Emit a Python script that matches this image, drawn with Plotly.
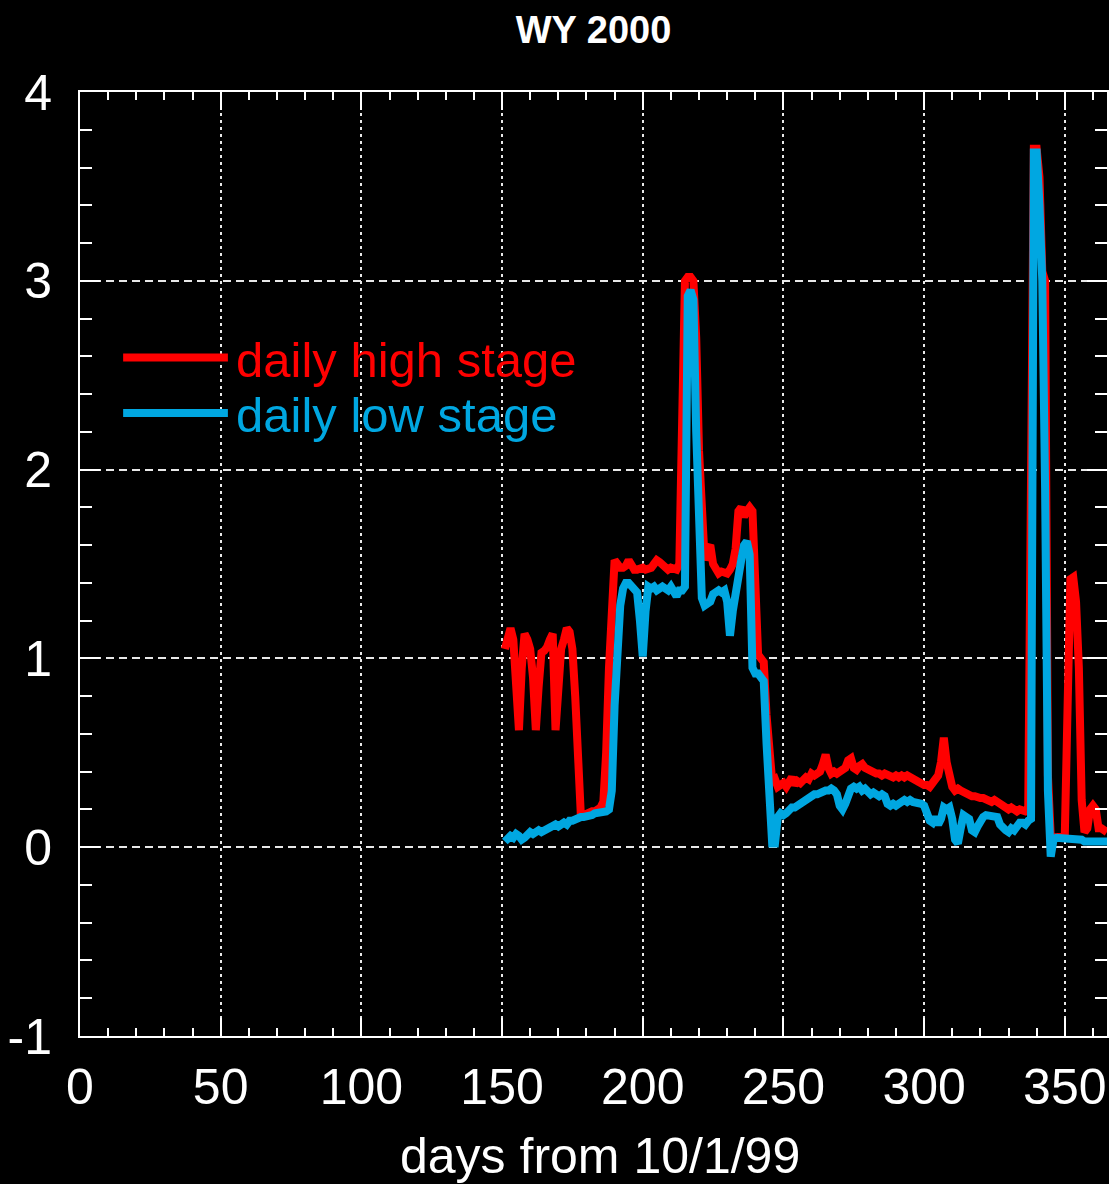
import plotly.graph_objects as go

# ---- data ----
first_day = 151
high_stage = [
    1.05, 1.12, 1.16, 1.10, 0.85, 0.62, 0.95, 1.13, 1.10, 1.05,   # 151-160
    0.90, 0.62, 0.85, 1.03, 1.04, 1.06, 1.10, 1.13, 0.62, 0.90,   # 161-170
    1.05, 1.10, 1.16, 1.14, 1.05, 0.80, 0.40, 0.17, 0.17, 0.18,   # 171-180
    0.18, 0.19, 0.19, 0.20, 0.21, 0.24, 0.50, 0.95, 1.30, 1.52,   # 181-190
    1.50, 1.48, 1.48, 1.49, 1.52, 1.50, 1.47, 1.47, 1.48, 1.48,   # 191-200
    1.47, 1.47, 1.48, 1.50, 1.52, 1.51, 1.50, 1.48, 1.47, 1.48,   # 201-210
    1.48, 1.47, 1.50, 2.25, 3.00, 3.02, 3.02, 3.00, 2.70, 2.10,   # 211-220
    1.70, 1.52, 1.58, 1.60, 1.50, 1.46, 1.45, 1.46, 1.46, 1.45,   # 221-230
    1.47, 1.50, 1.58, 1.78, 1.80, 1.75, 1.78, 1.80, 1.78, 1.40,   # 231-240
    1.02, 1.00, 0.98, 0.70, 0.45, 0.35, 0.36, 0.32, 0.33, 0.34,   # 241-250
    0.32, 0.35, 0.37, 0.33, 0.35, 0.34, 0.36, 0.37, 0.36, 0.39,   # 251-260
    0.38, 0.39, 0.40, 0.44, 0.49, 0.42, 0.39, 0.40, 0.39, 0.40,   # 261-270
    0.41, 0.42, 0.46, 0.47, 0.42, 0.41, 0.43, 0.44, 0.42, 0.41,   # 271-280
    0.40, 0.40, 0.39, 0.39, 0.38, 0.39, 0.38, 0.38, 0.37, 0.38,   # 281-290
    0.37, 0.38, 0.37, 0.38, 0.37, 0.36, 0.36, 0.35, 0.34, 0.33,   # 291-300
    0.33, 0.32, 0.34, 0.36, 0.38, 0.45, 0.58, 0.45, 0.35, 0.32,   # 301-310
    0.30, 0.31, 0.30, 0.29, 0.28, 0.28, 0.27, 0.27, 0.26, 0.26,   # 311-320
    0.26, 0.25, 0.25, 0.24, 0.25, 0.24, 0.23, 0.21, 0.21, 0.20,   # 321-330
    0.21, 0.20, 0.19, 0.20, 0.19, 0.19, 0.20, 1.95, 3.70, 3.70,   # 331-340
    3.55, 3.05, 3.00, 0.38, 0.06, 0.05, 0.05, 0.06, 0.06, 0.06,   # 341-350
    0.75, 1.42, 1.43, 1.30, 0.95, 0.25, 0.08, 0.10, 0.20, 0.22,   # 351-360
    0.20, 0.10, 0.10, 0.09, 0.08,                                 # 361-365
]
low_stage = [
    0.03, 0.05, 0.06, 0.05, 0.07, 0.06, 0.04, 0.05, 0.07, 0.08,   # 151-160
    0.07, 0.08, 0.09, 0.08, 0.09, 0.10, 0.10, 0.11, 0.12, 0.11,   # 161-170
    0.12, 0.13, 0.12, 0.14, 0.14, 0.15, 0.15, 0.16, 0.16, 0.16,   # 171-180
    0.17, 0.17, 0.18, 0.18, 0.19, 0.19, 0.19, 0.20, 0.30, 0.75,   # 181-190
    1.10, 1.28, 1.37, 1.40, 1.40, 1.38, 1.37, 1.35, 1.20, 1.01,   # 191-200
    1.25, 1.38, 1.37, 1.38, 1.36, 1.37, 1.38, 1.37, 1.36, 1.38,   # 201-210
    1.34, 1.33, 1.36, 1.36, 1.38, 2.92, 2.95, 2.90, 2.20, 1.55,   # 211-220
    1.32, 1.28, 1.29, 1.30, 1.34, 1.35, 1.36, 1.35, 1.36, 1.30,   # 221-230
    1.12, 1.25, 1.36, 1.42, 1.52, 1.60, 1.62, 1.55, 0.95, 0.92,   # 231-240
    0.92, 0.90, 0.88, 0.55, 0.20, 0.02, 0.02, 0.16, 0.18, 0.17,   # 241-250
    0.18, 0.20, 0.21, 0.21, 0.22, 0.24, 0.25, 0.25, 0.26, 0.27,   # 251-260
    0.28, 0.28, 0.29, 0.29, 0.30, 0.30, 0.31, 0.30, 0.28, 0.22,   # 261-270
    0.20, 0.23, 0.28, 0.31, 0.32, 0.31, 0.32, 0.30, 0.31, 0.29,   # 271-280
    0.28, 0.29, 0.28, 0.27, 0.28, 0.27, 0.23, 0.22, 0.23, 0.22,   # 281-290
    0.23, 0.24, 0.25, 0.24, 0.25, 0.24, 0.24, 0.24, 0.23, 0.22,   # 291-300
    0.17, 0.14, 0.13, 0.16, 0.12, 0.15, 0.21, 0.20, 0.21, 0.15,   # 301-310
    0.04, 0.02, 0.10, 0.17, 0.16, 0.15, 0.09, 0.08, 0.11, 0.14,   # 311-320
    0.16, 0.17, 0.17, 0.16, 0.17, 0.16, 0.12, 0.10, 0.09, 0.08,   # 321-330
    0.10, 0.09, 0.12, 0.13, 0.13, 0.12, 0.14, 0.15, 3.68, 3.68,   # 331-340
    3.40, 3.00, 1.90, 0.30, -0.05, 0.04, 0.05, 0.05, 0.05, 0.05,  # 341-350
    0.04, 0.04, 0.04, 0.04, 0.04, 0.04, 0.03, 0.03, 0.03, 0.03,   # 351-360
    0.03, 0.03, 0.03, 0.03, 0.03,                                 # 361-365
]
days = [first_day + i for i in range(len(high_stage))]

series_names = ["daily high stage", "daily low stage"]
series_colors = ["#FF0000", "#00A7E1"]
x_ticks = [0, 50, 100, 150, 200, 250, 300, 350]
y_ticks = [-1, 0, 1, 2, 3, 4]
y_tick_labels = ["-1", "0", "1", "2", "3", "4"]

FONT = "Liberation Sans, Arial, Helvetica, sans-serif"

fig = go.Figure()
fig.add_trace(go.Scatter(x=days, y=high_stage, mode="lines", name=series_names[0],
                         line=dict(color=series_colors[0], width=8)))
fig.add_trace(go.Scatter(x=days, y=low_stage, mode="lines", name=series_names[1],
                         line=dict(color=series_colors[1], width=8)))

axis_common = dict(
    showline=True, linecolor="white", linewidth=2, mirror="allticks",
    ticks="inside", tickcolor="white", tickwidth=2,
    showgrid=True, gridcolor="#e8e8e8", gridwidth=2,
    zeroline=False, automargin=False,
    tickfont=dict(family=FONT, size=50, color="white"),
)

fig.update_xaxes(
    **axis_common, range=[0, 365], tickvals=x_ticks, ticklen=18,
    griddash="3px,4px", ticklabelstandoff=6,
    minor=dict(dtick=10, tick0=0, ticks="inside", ticklen=8, tickcolor="white",
               tickwidth=2, showgrid=False),
)
fig.update_yaxes(
    **axis_common, range=[-1, 4], tickvals=y_ticks, ticktext=y_tick_labels,
    ticklen=20, griddash="8px,5px", ticklabelstandoff=16,
    minor=dict(dtick=0.2, tick0=0, ticks="inside", ticklen=12, tickcolor="white",
               tickwidth=2, showgrid=False),
)

# manual legend (long line samples with coloured text, as in the reference)
legend_rows = [(0.7188, 0.716), (0.660, 0.658)]
for (line_y, text_y), name, color in zip(legend_rows, series_names, series_colors):
    fig.add_shape(type="line", xref="paper", yref="paper", x0=0.042, x1=0.144,
                  y0=line_y, y1=line_y, line=dict(color=color, width=8))
    fig.add_annotation(xref="paper", yref="paper", x=0.150, y=text_y, text=name,
                       showarrow=False, xanchor="left", yanchor="middle",
                       font=dict(family=FONT, size=49, color=color))

fig.add_annotation(xref="paper", yref="paper", x=0.506, y=-0.127,
                   text="days from 10/1/99", showarrow=False,
                   xanchor="center", yanchor="middle",
                   font=dict(family=FONT, size=50, color="white"))

fig.update_layout(
    width=1109, height=1184,
    margin=dict(l=80, r=2, t=92, b=148, autoexpand=False),
    paper_bgcolor="black", plot_bgcolor="black",
    showlegend=False,
    title=dict(text="<b>WY 2000</b>", x=0.5, xref="paper", xanchor="center",
               y=1 - 30 / 1184, yref="container", yanchor="middle",
               font=dict(family=FONT, size=38, color="white")),
)

page_fix = ("document.body.style.margin='0';"
            "document.body.style.background='black';"
            "document.documentElement.style.background='black';"
            "document.body.style.overflow='hidden';")
fig.write_html("out.html", post_script=page_fix, config={"displayModeBar": False})
